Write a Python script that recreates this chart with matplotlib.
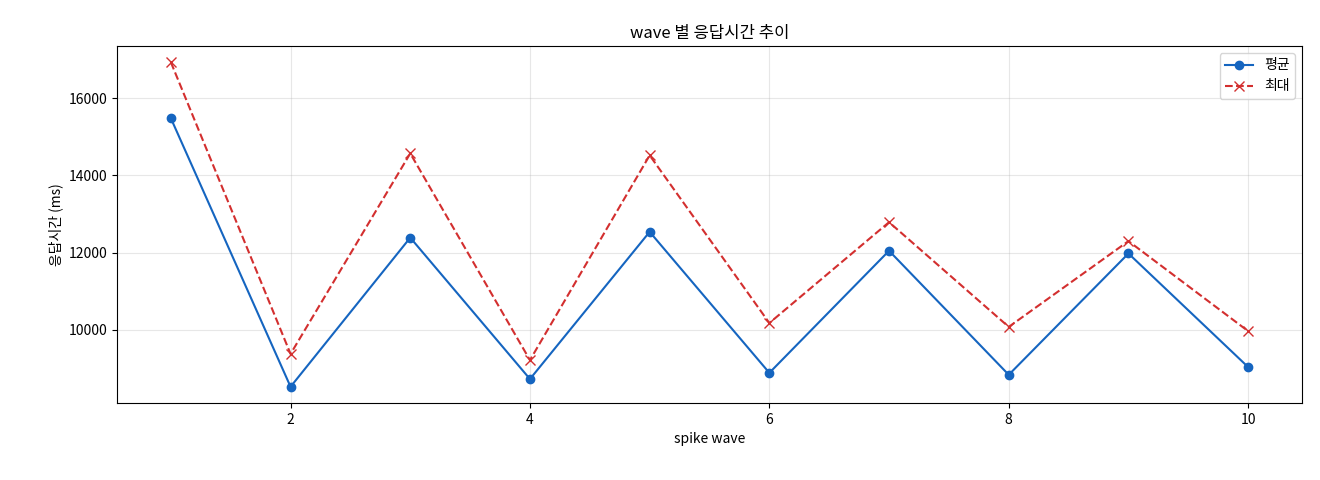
import matplotlib
matplotlib.use("Agg")
import matplotlib.pyplot as plt

plt.rcParams['font.family'] = ['Noto Sans CJK KR', 'DejaVu Sans']

waves = [1, 2, 3, 4, 5, 6, 7, 8, 9, 10]
avg_ms = [15480, 8530, 12390, 8730, 12540, 8890, 12050, 8840, 11980, 9040]
max_ms = [16930, 9380, 14570, 9220, 14520, 10180, 12790, 10080, 12300, 9970]

fig = plt.figure(figsize=(13.2, 4.8), dpi=100)
ax = fig.add_axes([117/1320, 1-403/480, (1302-117)/1320, (403-46)/480])
ax.plot(waves, avg_ms, '-o', color='#1565c0', markersize=6, label='평균')
ax.plot(waves, max_ms, '--x', color='#d32f2f', markersize=7, label='최대')
ax.set_title('wave 별 응답시간 추이')
ax.set_xlabel('spike wave')
ax.set_ylabel('응답시간 (ms)')
ax.grid(True, alpha=0.3)
ax.legend(loc='upper right')
fig.savefig('out.png', dpi=100)
